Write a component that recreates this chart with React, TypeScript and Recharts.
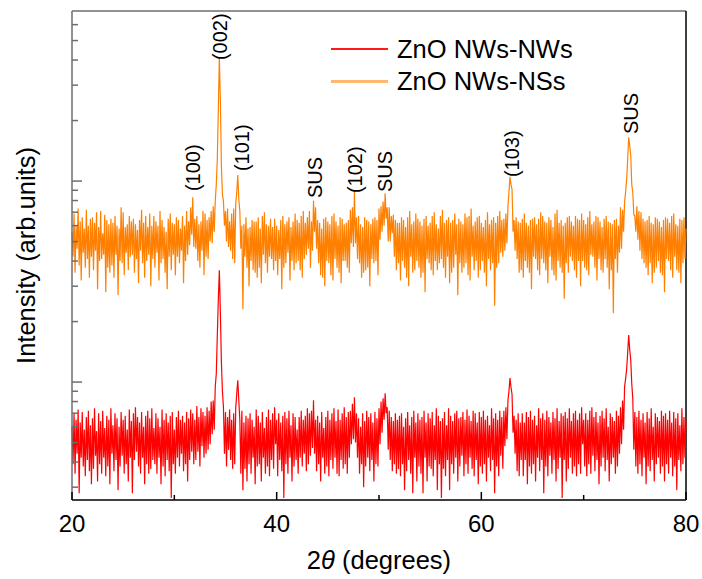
import React from 'react';
import { LineChart, Line, XAxis, YAxis, ReferenceLine, ReferenceDot } from 'recharts';

// 2θ sampling grid (degrees)
const X_START = 20;
const X_STEP = 0.1;

// ZnO NWs-NWs intensity (arb. units), one value per 0.1° from 20° to 80° (20 values per row = 2°)
const NWS_NWS = [
  600, 390, 700, 350, 650, 440, 730, 280, 630, 420, 710, 380, 580, 340, 670, 410, 720, 360, 610, 310,
  660, 370, 740, 430, 570, 320, 700, 390, 640, 350, 720, 420, 590, 340, 680, 380, 650, 310, 740, 440,
  610, 360, 700, 410, 660, 290, 600, 380, 710, 430, 650, 350, 680, 390, 580, 320, 730, 420, 640, 280,
  700, 410, 750, 450, 670, 380, 630, 350, 710, 420, 600, 310, 680, 390, 720, 350, 660, 370, 740, 410,
  590, 390, 700, 350, 660, 420, 600, 310, 730, 380, 650, 340, 700, 410, 630, 360, 680, 265, 710, 390,
  580, 350, 670, 420, 720, 380, 650, 440, 680, 360, 630, 390, 710, 320, 660, 410, 730, 450, 700, 390,
  650, 410, 760, 450, 670, 380, 740, 480, 710, 420, 680, 440, 750, 460, 720, 490, 800, 550, 810, 580,
  950, 1100, 1700, 2600, 3600, 2200, 1250, 900, 750, 440, 710, 380, 670, 460, 730, 410, 650, 370, 700, 390,
  740, 880, 1020, 810, 650, 350, 720, 290, 630, 370, 680, 320, 660, 390, 700, 350, 650, 420, 600, 310,
  730, 380, 680, 390, 630, 320, 710, 420, 590, 350, 670, 380, 730, 340, 650, 410, 700, 370, 750, 490,
  650, 340, 700, 410, 630, 360, 680, 265, 710, 390, 660, 350, 720, 420, 610, 320, 700, 380, 670, 410,
  580, 350, 670, 420, 720, 380, 650, 440, 680, 360, 740, 390, 700, 430, 720, 470, 813, 440, 650, 360,
  680, 390, 630, 320, 710, 420, 590, 350, 670, 380, 720, 340, 650, 410, 700, 370, 740, 420, 640, 350,
  730, 340, 650, 410, 700, 370, 750, 390, 670, 350, 710, 420, 720, 490, 780, 520, 841, 500, 700, 420,
  660, 350, 600, 390, 700, 300, 640, 380, 720, 420, 670, 360, 700, 410, 630, 320, 710, 390, 660, 380,
  740, 490, 800, 560, 830, 650, 880, 700, 750, 460, 720, 410, 670, 360, 640, 390, 700, 350, 650, 370,
  680, 340, 700, 390, 600, 290, 660, 360, 710, 410, 610, 350, 670, 280, 720, 420, 630, 320, 700, 380,
  650, 350, 670, 280, 720, 420, 630, 320, 700, 380, 660, 370, 710, 340, 610, 410, 740, 290, 680, 390,
  640, 265, 660, 370, 710, 340, 610, 410, 740, 290, 680, 390, 640, 350, 700, 420, 720, 320, 660, 380,
  670, 430, 710, 340, 650, 390, 730, 350, 680, 420, 640, 370, 720, 340, 700, 410, 630, 310, 710, 380,
  670, 350, 720, 390, 650, 320, 680, 420, 610, 360, 740, 410, 660, 280, 700, 380, 650, 340, 720, 430,
  670, 370, 720, 480, 750, 520, 810, 900, 1048, 940, 870, 560, 680, 440, 650, 360, 700, 340, 630, 410,
  700, 340, 630, 410, 710, 310, 670, 380, 720, 350, 650, 390, 680, 320, 610, 420, 740, 360, 660, 410,
  700, 280, 650, 380, 720, 340, 670, 430, 630, 350, 710, 410, 660, 320, 740, 370, 640, 420, 700, 265,
  680, 410, 710, 320, 660, 370, 740, 420, 640, 350, 700, 380, 720, 340, 650, 390, 700, 350, 750, 490,
  650, 380, 700, 340, 650, 390, 720, 350, 750, 430, 670, 360, 710, 410, 630, 310, 680, 380, 720, 420,
  660, 360, 740, 410, 600, 320, 700, 390, 670, 420, 640, 350, 720, 380, 680, 440, 750, 490, 810, 580,
  950, 1040, 1160, 1400, 1714, 1450, 1290, 980, 830, 460, 710, 380, 670, 350, 720, 390, 650, 340, 700, 420,
  630, 310, 710, 380, 660, 360, 740, 410, 600, 320, 700, 390, 670, 420, 640, 350, 720, 380, 680, 320,
  700, 390, 650, 350, 720, 420, 630, 340, 710, 380, 660, 290, 700, 410, 610, 360, 740, 390, 670, 420,
  640,
];

// ZnO NWs-NSs intensity (arb. units), same grid
const NWS_NSS = [
  5600, 4200, 6900, 3500, 6000, 4600, 7300, 3800, 6300, 3200, 6600, 4400, 5800, 3700, 7200, 4100, 6000, 3300, 6500, 4200,
  6600, 3600, 6200, 4500, 7000, 2900, 5900, 4000, 7100, 4100, 5500, 4300, 6800, 2800, 6400, 3700, 6100, 3500, 6500, 3800,
  6200, 3300, 6700, 4300, 6000, 2700, 5800, 4000, 7400, 3900, 7000, 3400, 5900, 4400, 6100, 3600, 6700, 4200, 6300, 4300,
  6500, 3500, 6100, 4100, 5700, 3100, 6400, 4500, 7200, 3900, 6200, 3300, 6700, 4000, 5900, 4300, 6900, 3000, 6000, 4100,
  6700, 3700, 6300, 4400, 6000, 3200, 7100, 3900, 6400, 4100, 5900, 3500, 5600, 2900, 6500, 4200, 6900, 3600, 6200, 4300,
  6100, 3400, 6600, 4200, 6400, 3900, 5800, 4500, 6700, 3100, 6000, 4000, 7100, 4300, 6300, 4800, 7400, 5400, 8300, 4700,
  6500, 4600, 6700, 4000, 6100, 3700, 6300, 4500, 7100, 3400, 6900, 4200, 6400, 4100, 6600, 5000, 7100, 4900, 7500, 5600,
  8000, 9600, 12800, 23000, 40900, 25000, 11800, 8600, 7900, 6000, 7100, 5000, 7300, 4700, 6300, 4500, 6900, 4100, 7300, 3900,
  7700, 8800, 10700, 8100, 7100, 4600, 6000, 2300, 6100, 4200, 6600, 3700, 5800, 3000, 5900, 4000, 6400, 3600, 6300, 3500,
  6300, 3300, 6600, 3700, 5800, 3100, 6700, 4300, 7000, 3900, 6100, 3500, 6000, 4200, 6500, 4100, 5900, 3600, 6500, 4000,
  6000, 3400, 5700, 4100, 6400, 2900, 6700, 3700, 6100, 3900, 6300, 4400, 6600, 3200, 5900, 4000, 6300, 3600, 6900, 3900,
  6400, 4000, 6200, 3600, 6700, 3300, 7100, 4100, 6200, 4300, 6600, 4600, 7100, 3700, 6300, 4500, 8000, 5600, 7400, 4600,
  6400, 3900, 6200, 3400, 5800, 3300, 6500, 3000, 6600, 4000, 6300, 3900, 6100, 3400, 6700, 3200, 6900, 4100, 6300, 3700,
  6000, 3500, 6600, 3100, 6500, 4000, 6100, 4000, 6200, 3700, 6400, 3500, 7200, 4900, 7400, 4700, 9000, 4900, 6600, 4100,
  6700, 3900, 6100, 3300, 5900, 3500, 6600, 3600, 6400, 3700, 6300, 3000, 6100, 4100, 6500, 3900, 6600, 4000, 6400, 3400,
  7300, 5100, 7500, 5600, 7900, 6000, 8700, 6500, 7400, 5000, 7400, 5000, 6700, 5500, 6800, 4200, 6400, 3600, 6200, 3900,
  6200, 3200, 6600, 4000, 6400, 3700, 5900, 3300, 6600, 3000, 7100, 4200, 6100, 3500, 6300, 3600, 6900, 4000, 6500, 3700,
  6300, 3300, 6000, 3500, 6500, 2800, 6700, 4100, 6000, 3900, 6200, 3600, 6700, 3400, 7000, 4000, 6100, 3600, 5800, 3900,
  6700, 4100, 7200, 3700, 6200, 3300, 6400, 4200, 6600, 3100, 6200, 3500, 6400, 3700, 6900, 4300, 6100, 2700, 6500, 3900,
  6300, 3500, 6100, 3700, 6900, 3900, 6600, 3400, 6700, 3200, 7300, 4200, 6000, 3600, 6300, 4000, 6600, 3300, 6700, 3600,
  6200, 4000, 5900, 3500, 6400, 3000, 7000, 4100, 6100, 3600, 6400, 3900, 6600, 2400, 6200, 3700, 6700, 3900, 7100, 4400,
  6400, 4200, 6500, 4500, 6900, 4900, 7500, 8800, 10500, 9600, 9100, 5600, 6400, 4500, 6600, 4100, 6300, 3500, 6200, 3600,
  6500, 3300, 6900, 4000, 6200, 3700, 6000, 3500, 6400, 2900, 6500, 4200, 6600, 4100, 6100, 3600, 6500, 3400, 7000, 4100,
  6700, 3900, 6300, 3600, 6200, 3100, 6600, 4200, 6400, 3600, 5900, 3400, 6900, 3200, 7200, 4000, 6200, 3700, 6400, 3500,
  6000, 2600, 6200, 3900, 6600, 3500, 6700, 4200, 6300, 4000, 6000, 3600, 6700, 3300, 6500, 4000, 6400, 3000, 6900, 4000,
  6400, 3700, 6100, 3600, 6600, 3400, 7100, 4300, 6100, 4200, 6300, 3700, 6700, 3200, 6600, 4100, 6300, 3600, 5900, 3500,
  6500, 4100, 6700, 3700, 6300, 2900, 6200, 3600, 6100, 2200, 6400, 4100, 6500, 3500, 6000, 4400, 7400, 4600, 7200, 5600,
  7900, 8800, 10200, 12800, 16500, 15000, 13400, 9600, 8800, 6800, 6700, 5600, 7500, 5100, 7100, 4500, 7000, 4100, 6500, 3900,
  6300, 3700, 6400, 3400, 6700, 3900, 6200, 3100, 6100, 3500, 6600, 3700, 6500, 4000, 6300, 3500, 5900, 3400, 6400, 2800,
  6600, 4100, 6500, 4000, 6200, 3600, 6700, 3300, 6900, 4200, 6100, 3600, 6000, 3500, 6500, 3100, 6400, 3900, 6600, 4100,
  5800,
];

const X_TICKS = [20, 30, 40, 50, 60, 70, 80];
const X_LABELED = [20, 40, 60, 80];
const Y_DOMAIN = [259, 70150];
const Y_TICKS = [300, 400, 500, 600, 700, 800, 900, 1000, 2000, 3000, 4000, 5000, 6000, 7000, 8000, 9000, 10000, 20000, 30000, 40000, 50000, 60000];
const Y_MAJOR = [1000, 10000];

const ANNO_LABELS = ['(100)', '(002)', '(101)', 'SUS', '(102)', 'SUS', '(103)', 'SUS'];
const ANNO_X = [31.8, 34.5, 36.6, 43.7, 47.7, 50.6, 63.0, 74.6];
const ANNO_Y = [8920, 40000, 11210, 8230, 8715, 8815, 10470, 17140];

const SERIES_NAMES = ['ZnO NWs-NWs', 'ZnO NWs-NSs'];

const FONT = '"Liberation Sans", Arial, Helvetica, sans-serif';

const data = NWS_NWS.map((v, i) => ({
  x: Number((X_START + i * X_STEP).toFixed(1)),
  nws: v,
  nss: NWS_NSS[i],
}));

const XTick = (props: any) => {
  const { x, y, payload } = props;
  const major = X_LABELED.includes(payload.value);
  return (
    <g>
      <line x1={x} x2={x} y1={y} y2={y - (major ? 8 : 5)} stroke="#000" strokeWidth={1.5} />
      {major && (
        <text x={x} y={y + 23} textAnchor="middle" dominantBaseline="central" fontSize={24} fontFamily={FONT} fill="#000">
          {payload.value}
        </text>
      )}
    </g>
  );
};

const YTick = (props: any) => {
  const { x, y, payload } = props;
  const major = Y_MAJOR.includes(payload.value);
  return <line x1={x} x2={x + (major ? 10 : 6)} y1={y} y2={y} stroke="#6e6e6e" strokeWidth={1.5} />;
};

const XTitle = (props: any) => {
  const vb = props.viewBox;
  return (
    <text x={vb.x + vb.width / 2} y={vb.y + 60} textAnchor="middle" dominantBaseline="central" fontSize={25.5} fontFamily={FONT} fill="#000">
      2<tspan fontStyle="italic">θ</tspan> (degrees)
    </text>
  );
};

const YTitle = (props: any) => {
  const vb = props.viewBox;
  const cx = vb.x + vb.width - 46;
  const cy = vb.y + vb.height / 2;
  return (
    <text x={cx} y={cy} transform={`rotate(-90 ${cx} ${cy})`} textAnchor="middle" dominantBaseline="central" fontSize={25.5} fontFamily={FONT} fill="#000">
      Intensity (arb.units)
    </text>
  );
};

const annoShape = (label: string) => (props: any) => {
  const { cx, cy } = props;
  return (
    <text x={cx} y={cy} transform={`rotate(-90 ${cx} ${cy})`} textAnchor="start" dominantBaseline="central" fontSize={20} fontFamily={FONT} fill="#000">
      {label}
    </text>
  );
};

const LEGEND_COLORS = ['#ff1a1a', '#ffb870'];
const LEGEND_WIDTHS = [2, 3];

export default function App() {
  return (
    <div style={{ position: 'absolute', left: 0, top: 0, width: 702, height: 579, background: '#fff' }}>
      <LineChart width={702} height={579} data={data} margin={{ top: 11, right: 16, bottom: 78, left: 71 }}>
        <XAxis
          dataKey="x"
          type="number"
          domain={[20, 80]}
          ticks={X_TICKS}
          interval={0}
          height={1}
          tickSize={0}
          tickMargin={0}
          tickLine={false}
          tick={<XTick />}
          axisLine={{ stroke: '#000', strokeWidth: 1.5 }}
          label={{ content: <XTitle /> }}
        />
        <YAxis
          type="number"
          scale="log"
          domain={Y_DOMAIN}
          allowDataOverflow
          ticks={Y_TICKS}
          interval={0}
          width={1}
          tickSize={0}
          tickMargin={0}
          tickLine={false}
          tick={<YTick />}
          axisLine={{ stroke: '#6e6e6e', strokeWidth: 1.5 }}
          label={{ content: <YTitle /> }}
        />
        <ReferenceLine y={Y_DOMAIN[1]} stroke="#6e6e6e" strokeWidth={1.5} ifOverflow="visible" />
        <ReferenceLine x={80} stroke="#000" strokeWidth={1.5} ifOverflow="visible" />
        <Line dataKey="nws" name={SERIES_NAMES[0]} stroke="#ff0000" strokeWidth={1.2} dot={false} isAnimationActive={false} />
        <Line dataKey="nss" name={SERIES_NAMES[1]} stroke="#ff8000" strokeWidth={1.2} dot={false} isAnimationActive={false} />
        {ANNO_LABELS.map((lab, i) => (
          <ReferenceDot key={i} x={ANNO_X[i]} y={ANNO_Y[i]} r={0} ifOverflow="visible" shape={annoShape(lab)} />
        ))}
      </LineChart>
      <div style={{ position: 'absolute', left: 331, top: 33, fontFamily: FONT, fontSize: 25.5, color: '#000' }}>
        {SERIES_NAMES.map((n, i) => (
          <div key={n} style={{ display: 'flex', alignItems: 'center', height: 32, whiteSpace: 'nowrap' }}>
            <span style={{ display: 'block', flex: 'none', width: 57, height: LEGEND_WIDTHS[i], backgroundColor: LEGEND_COLORS[i], marginRight: 9 }} />
            <span style={{ lineHeight: '32px' }}>{n}</span>
          </div>
        ))}
      </div>
    </div>
  );
}
